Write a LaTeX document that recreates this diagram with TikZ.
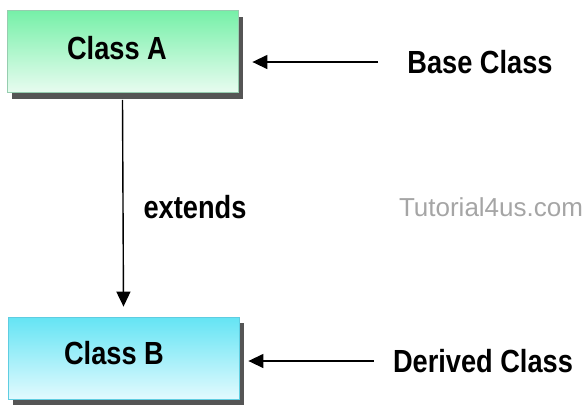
\documentclass[tikz,border=0pt]{standalone}
\usepackage{fontspec}
\setmainfont{Liberation Sans}
\newfontfamily\lblfont[FakeStretch=0.85]{Liberation Sans}
\usetikzlibrary{arrows.meta,shadows}
\definecolor{atop}{RGB}{118,240,168}
\definecolor{abot}{RGB}{232,252,240}
\definecolor{aline}{RGB}{150,205,175}
\definecolor{btop}{RGB}{100,228,244}
\definecolor{bbot}{RGB}{226,250,254}
\definecolor{bline}{RGB}{95,205,225}
\definecolor{shade}{RGB}{85,85,85}
\definecolor{wm}{RGB}{165,165,165}
\begin{document}
\begin{tikzpicture}[x=1pt,y=-1pt,
  lbl/.style={font=\lblfont\fontsize{32}{36}\selectfont\bfseries, inner sep=0pt},
  classbox/.style={draw, line width=0.8pt, minimum width=231pt, minimum height=82pt,
    inner sep=0pt,
    drop shadow={shadow xshift=5pt, shadow yshift=-6pt, fill=shade, opacity=1}},
  arr/.style={line width=1.4pt, -{Triangle[length=15pt,width=14pt]}}
]
\useasboundingbox (0,0) rectangle (586,405);
\node[classbox, draw=aline, top color=atop, bottom color=abot] (boxA) at (122.5,51.5) {};
\node[classbox, draw=bline, top color=btop, bottom color=bbot] (boxB) at (123.5,358) {};
\node[lbl] (txtA) at (117,48.5) {Class A};
\node[lbl] (txtB) at (114,353.5) {Class B};
\node[lbl] (base) at (480,62) {Base Class};
\node[lbl] (derived) at (483,361) {Derived Class};
\node[lbl] (ext) at (195,207) {extends};
\node[font=\fontsize{26}{30}\selectfont, text=wm, inner sep=0pt] (wmark) at (491,207) {Tutorial4us.com};
\draw[arr] ([yshift=-7pt]boxA.south) -- ([yshift=10pt]boxB.north);
\draw[arr] ([xshift=-29pt]base.west) -- ([xshift=14pt]boxA.east |- base.west);
\draw[arr] ([xshift=-19pt]derived.west) -- ([xshift=9pt]boxB.east |- derived.west);
\end{tikzpicture}
\end{document}
